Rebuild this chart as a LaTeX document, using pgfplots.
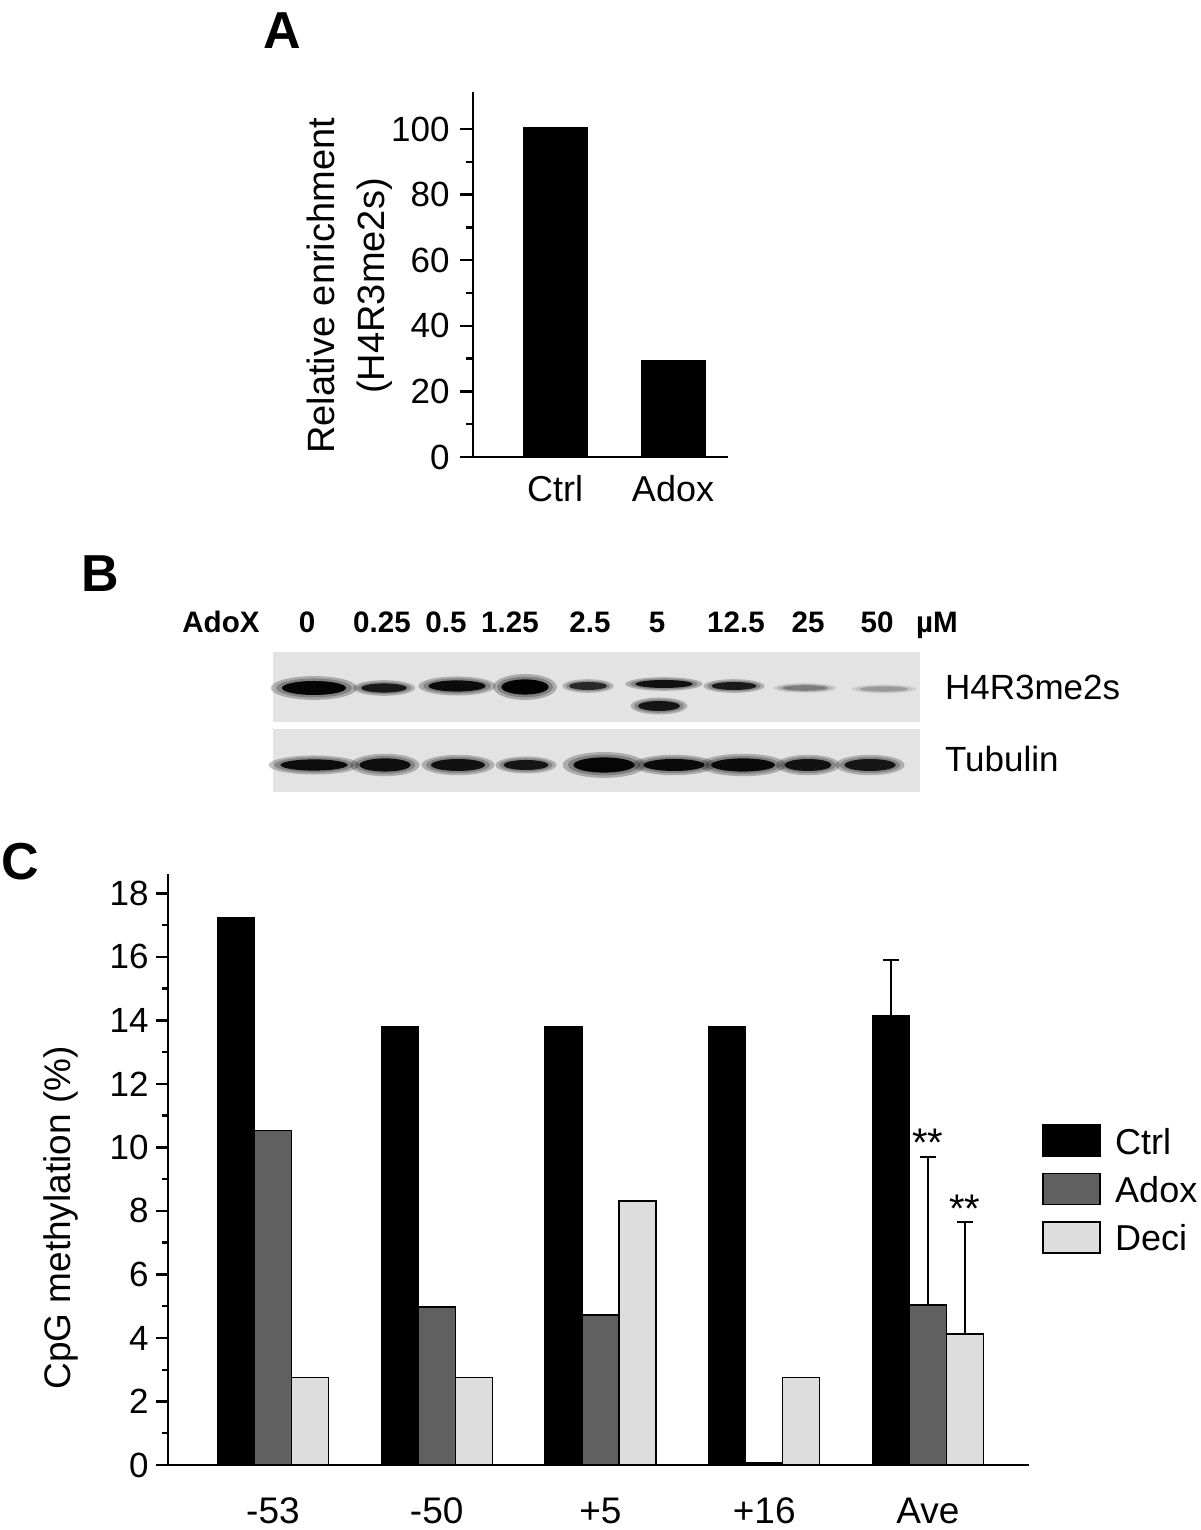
\documentclass[border=0pt]{standalone}
\usepackage{fontspec}
\setmainfont{Liberation Sans}
\usepackage{pgfplots}
\pgfplotsset{compat=1.18}
\usepackage{pgfplotstable}

\definecolor{adoxgray}{RGB}{96,96,96}
\definecolor{decigray}{RGB}{221,221,221}
\definecolor{blotbg}{RGB}{227,227,227}

% panel C: CpG methylation (%) per site
\pgfplotstableread{
x ctrl adox deci
0 17.23 10.53 2.75
1 13.79 4.97 2.75
2 13.79 4.72 8.31
3 13.79 0.06 2.75
4 14.14 5.04 4.13
}\cpg

% upper error of the averages (x shifted onto the bars)
\pgfplotstableread{
x y e
3.774 14.14 1.77
4.000 5.04 4.66
4.226 4.13 3.52
}\cpgerr

% panel B bands: lane centre and row (image px), half sizes (pt), darkness
\pgfplotstableread{
x y rx ry k
314 688 16.0 3.5 0.97
384 688 11.5 2.3 0.88
457 686 14.3 2.8 0.94
525 687 11.8 3.8 0.98
588 686 9.5 2.0 0.82
664 684 14.3 2.0 0.92
659 706 10.5 2.5 0.90
734 686 11.3 2.0 0.88
805 688 11.5 1.4 0.45
884 689 12.0 1.3 0.32
}\hfour

\pgfplotstableread{
x y rx ry k
314 765 16.8 2.8 0.94
385 765 12.8 3.3 0.93
458 765 13.5 3.0 0.92
526 765 11.3 2.5 0.90
604 765 15.3 3.8 0.97
674 765 15.3 3.0 0.95
743 765 16.0 3.3 0.95
808 765 11.8 3.0 0.92
870 765 12.8 3.0 0.90
}\tub

% elliptic band mark, sized per point
\pgfdeclareplotmark{band}{%
  \pgfpathellipse{\pgfpointorigin}{\pgfpoint{\bandrx pt}{0pt}}{\pgfpoint{0pt}{\bandry pt}}%
  \pgfusepath{fill}}

\pgfplotsset{
  panel/.style={scale only axis, anchor=south west, axis lines*=left,
    axis line style={line width=1.2pt}, tick align=outside,
    tick style={black, line width=1.2pt},
    enlargelimits=false, clip=false,
    /pgf/number format/assume math mode=true,
    xtick style={draw=none}},
  blot/.style={scale only axis, anchor=south west, width=323.5pt,
    xmin=273, xmax=920, y dir=reverse, ticks=none,
    axis line style={draw=none}, axis background/.style={fill=blotbg},
    clip=false, colormap={blot}{color=(blotbg) color=(black)},
    point meta min=0, point meta max=1},
  band/.style={scatter, only marks, mark=band, point meta=explicit,
    visualization depends on={\thisrow{rx} \as \bandrx},
    visualization depends on={\thisrow{ry} \as \bandry},
    scatter/use mapped color={draw=none, fill=mapped color}},
  halo/.style={scatter, only marks, mark=band, point meta=explicit,
    visualization depends on={#1*\thisrow{rx} \as \bandrx},
    visualization depends on={(2*#1-1)*\thisrow{ry} \as \bandry},
    scatter/use mapped color={draw=none, fill=mapped color, fill opacity=0.25}},
  cbar/.style={ybar, bar width=18.5pt, line width=0.7pt, draw=black,
    legend image code/.code={\draw[##1, line width=0.9pt] (0pt,-1pt) rectangle (28.5pt,14.5pt);}},
}

\begin{document}
\begin{tikzpicture}
\useasboundingbox (0,0) rectangle (600pt,765pt);
\tikzset{plab/.style={font=\bfseries\fontsize{26}{26}\selectfont}}
\node[plab] at (141pt,749.5pt) {A};
\node[plab] at (50pt,478pt) {B};
\node[plab] at (10pt,334pt) {C};

% ---- A
\begin{axis}[panel, at={(236.5pt,536.5pt)}, width=127.5pt, height=182.5pt,
  major tick length=6.5pt, minor tick length=3.5pt,
  xmin=0.305, xmax=2.466, ymin=0, ymax=111.3,
  xtick={1,2}, xticklabels={Ctrl,Adox},
  ytick={0,20,...,100}, minor ytick={10,30,...,90},
  yticklabel style={font=\fontsize{17.5}{17.5}\selectfont, anchor=east, inner sep=0pt, xshift=-5pt},
  xticklabel style={font=\fontsize{18}{18}\selectfont, anchor=base, yshift=-16pt},
  ylabel={Relative enrichment\\(H4R3me2s)},
  ylabel style={align=center, font=\fontsize{19}{25}\selectfont,
    at={(axis description cs:-0.4824,0.4685)}, anchor=center}]
\addplot[ybar, bar width=32pt, fill=black, draw=black] coordinates {(1,100.5) (2,29.4)};
\end{axis}

% ---- B
\tikzset{bl/.style={anchor=base, font=\bfseries\fontsize{14.8}{14.8}\selectfont}}
\begin{axis}[blot, at={(136.5pt,404pt)}, height=35pt, ymin=652, ymax=722]
\addplot[halo=1.35] table[x=x, y=y, meta=k] {\hfour};
\addplot[halo=1.18] table[x=x, y=y, meta=k] {\hfour};
\addplot[band] table[x=x, y=y, meta=k] {\hfour};
\node[bl] at (axis cs:221,633) {AdoX};
\node[bl] at (axis cs:307,633) {0};
\node[bl] at (axis cs:382,633) {0.25};
\node[bl] at (axis cs:446,633) {0.5};
\node[bl] at (axis cs:510,633) {1.25};
\node[bl] at (axis cs:590,633) {2.5};
\node[bl] at (axis cs:657,633) {5};
\node[bl] at (axis cs:736,633) {12.5};
\node[bl] at (axis cs:808,633) {25};
\node[bl] at (axis cs:877,633) {50};
\node[bl] at (axis cs:937,633) {µM};
\node[anchor=base west, font=\fontsize{17.5}{17.5}\selectfont] at (axis cs:938,700) {H4R3me2s};
\end{axis}
\begin{axis}[blot, at={(136.5pt,369pt)}, height=31.5pt, ymin=729, ymax=792]
\addplot[halo=1.35] table[x=x, y=y, meta=k] {\tub};
\addplot[halo=1.18] table[x=x, y=y, meta=k] {\tub};
\addplot[band] table[x=x, y=y, meta=k] {\tub};
\node[anchor=base west, font=\fontsize{17.5}{17.5}\selectfont] at (axis cs:938,772) {Tubulin};
\end{axis}

% ---- C
\begin{axis}[panel, at={(84pt,32.5pt)}, width=430.5pt, height=295.5pt,
  major tick length=6pt, minor tick length=3pt,
  xmin=-0.641, xmax=4.617, ymin=0, ymax=18.61,
  xtick={0,...,4}, xticklabels={-53,-50,+5,+16,Ave},
  ytick={0,2,...,18}, minor ytick={1,3,...,17},
  yticklabel style={font=\fontsize{17.5}{17.5}\selectfont, anchor=east, inner sep=0pt, xshift=-3.5pt},
  xticklabel style={font=\fontsize{18.5}{18.5}\selectfont, anchor=base, yshift=-23pt},
  ylabel={CpG methylation (\%)},
  ylabel style={font=\fontsize{18.5}{18.5}\selectfont,
    at={(axis description cs:-0.1243,0.418)}, anchor=center},
  legend style={draw=none, fill=none, at={(1.0151,0.577)}, anchor=north west,
    inner sep=0pt, row sep=7.75pt, font=\fontsize{18}{18}\selectfont,
    cells={anchor=base west}, nodes={inner sep=0pt, text depth=0pt},
    /tikz/every odd column/.append style={column sep=7pt}}]
\addplot[cbar, bar shift=-18.5pt, fill=black] table[x=x, y=ctrl] {\cpg};
\addplot[cbar, bar shift=0pt, fill=adoxgray] table[x=x, y=adox] {\cpg};
\addplot[cbar, bar shift=18.5pt, fill=decigray] table[x=x, y=deci] {\cpg};
\legend{Ctrl, Adox, Deci}
\addplot[forget plot, draw=none, mark=none,
  error bars/.cd, y dir=plus, y explicit,
  error bar style={draw=black, line width=0.8pt},
  error mark options={draw=black, rotate=90, mark size=4pt, line width=0.8pt}]
  table[x=x, y=y, y error=e] {\cpgerr};
\node[anchor=base, font=\fontsize{20}{20}\selectfont] at (axis cs:4,9.70) {**};
\node[anchor=base, font=\fontsize{20}{20}\selectfont] at (axis cs:4.226,7.65) {**};
\end{axis}
\end{tikzpicture}
\end{document}
